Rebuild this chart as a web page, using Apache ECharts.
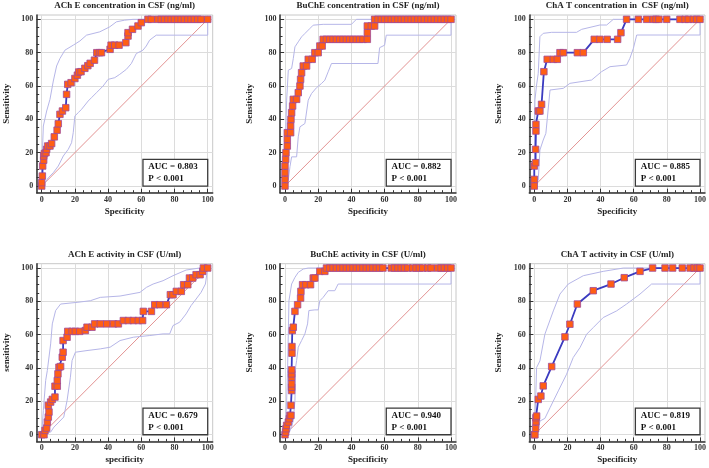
<!DOCTYPE html>
<html>
<head>
<meta charset="utf-8">
<script src="https://cdn.jsdelivr.net/npm/echarts@6/dist/echarts.min.js"></script>
<style>html,body{margin:0;padding:0;background:#fff;}#c{width:709px;height:468px;}</style>
</head>
<body>
<div id="c"></div>
<script>
// ---------- DATA ----------
const titles = [
  'ACh E concentration in CSF (ng/ml)',
  'BuChE concentration in CSF (ng/ml)',
  'ChA T concentration in  CSF (ng/ml)',
  'ACh E activity in CSF (U/ml)',
  'BuChE activity in CSF (U/ml)',
  'ChA T activity in CSF (U/ml)'
];
const xNames = ['Specificity','Specificity','Specificity','specificity','Specificity','Specificity'];
const yNames = ['Sensitivity','Sensitivity','Sensitivity','sensitivity','Sensitivity','Sensitivity'];
const aucValues = ['0.803','0.882','0.885','0.679','0.940','0.819'];
const pValues = ['P < 0.001','P < 0.001','P < 0.001','P < 0.001','P < 0.001','P < 0.001'];
const tickValues = [0,20,40,60,80,100];
const minorTickValues = [0,5,10,15,20,25,30,35,40,45,50,55,60,65,70,75,80,85,90,95,100];
const diagonal = [[0,0],[100,100]];

// Panel 1: AChE concentration
const achEConcRoc = [[0,0],[0,2],[0.4,6],[0.6,12],[1.2,15.5],[1.2,18],[1.6,19.5],[2.6,20],[3,22],[3.6,24],[5,24],[6,25.5],[7.6,29.5],[9.3,33.5],[10,37.4],[11,43],[12.5,45],[14.5,47],[15,55],[15.7,61],[17.7,62],[20,64.5],[21.5,66.5],[22.3,68.4],[23.7,68.6],[26,70.6],[27.8,72.2],[29.2,73.6],[31.8,75.5],[33.2,80],[34.8,80],[36,80],[41.2,82],[41.8,84.5],[44,84.5],[46.6,84.5],[50.7,86],[52,90],[52,92],[54.7,94],[58,96],[60,98],[64,100],[66,100],[70,100],[72,100],[74,100],[76,100],[78,100],[80,100],[82,100],[84,100],[86,100],[88,100],[90,100],[92,100],[94,100],[96,100],[100,100]];
const achEConcUpper = [[0,0],[0.4,20],[1,36],[3,45],[5,52],[7,63],[9,72],[11,76.5],[14,81.5],[19,84.5],[23,87],[27,90.5],[35,92.5],[41,95.5],[45,98.5],[50,99.5],[55,100],[100,100]];
const achEConcLower = [[0,0],[2,2],[4,5],[7,8],[10,12],[13,18],[16,22],[18,26],[19,32],[20,42],[22,44],[24,46],[28,51],[30,53],[33,56],[37,60],[40,64],[44,65],[47,67],[51,70],[54,73.5],[57,79.5],[61,81.5],[63,84],[65,87.5],[69,90.5],[100,90.5],[100,100]];

// Panel 2: BuChE concentration
const buChEConcRoc = [[0,0],[0,4],[0,8],[0,12],[0.4,16],[0.6,20],[1.4,24],[1.4,28],[1.4,32],[3.4,32],[3.4,36],[3.6,40],[4,44],[4.6,48],[5,52],[7,52],[8,56],[9,60],[9.4,64],[10,68],[11,72],[13,72],[14,76],[16.4,76],[18,80],[20,80],[21,84],[22.4,84],[23,88],[25,88],[27,88],[29,88],[31,88],[33,88],[35,88],[37,88],[39,88],[41,88],[43,88],[45,88],[47,88],[49.6,88],[49.6,92],[49.6,96],[52,96],[54,96],[54,100],[56,100],[58,100],[60,100],[62,100],[64,100],[66,100],[68,100],[70,100],[72,100],[74,100],[76,100],[78,100],[80,100],[82,100],[84,100],[86,100],[88,100],[90,100],[92,100],[94,100],[96,100],[98,100],[100,100]];
const buChEConcUpper = [[0,0],[0.4,30],[1,51.5],[2,69.5],[4,70.5],[5,76.5],[6,83.5],[8,86.5],[10,89.5],[12,91.5],[15,94.5],[17,96.5],[23,97],[40,97],[43,100],[100,100]];
const buChEConcLower = [[0,0],[2,3.6],[3,11.6],[4,17.5],[7,17.5],[8,29.5],[9,35.5],[12,37.5],[14,51.5],[16,55.5],[19,59],[22,61.5],[24,63.5],[26,68.5],[28,73.5],[56,73.5],[57,83],[60,84.5],[61,90.5],[100,90.5],[100,100]];

// Panel 3: ChAT concentration
const chATConcRoc = [[0,0],[0,4],[0,12],[0.8,14],[0.8,22],[1,33],[1,37],[2.4,45],[3.4,45],[4.4,49],[5.8,68.6],[7.8,76],[11.5,76],[13.9,76],[15.5,80],[17.5,80],[26,80],[29.6,80],[36.2,88],[39.6,88],[44,88],[50.3,88],[52.3,92],[55.7,100],[62.8,100],[67.8,100],[71.8,100],[73.5,100],[75.2,100],[79.9,100],[87.9,100],[91,100],[93,100],[96,100],[98,100],[100,100]];
const chATConcUpper = [[0,0],[0.4,51.6],[1.4,60.6],[2.4,67.6],[3.4,89.6],[4.4,89.6],[5.4,91.6],[10.5,92.2],[25.5,92.2],[28.6,94],[39.6,96.6],[43.7,96.6],[47.7,100],[100,100]];
const chATConcLower = [[0,0],[2.4,3.6],[3.4,21.6],[4.4,22.6],[5.4,27.6],[7,31.6],[9.5,57.6],[10.5,58.6],[17.5,58.6],[21.5,61.6],[34.6,63.6],[40.6,68.6],[45.7,71.6],[55.7,72.6],[57.7,76.6],[59.8,82.6],[61.8,90.6],[100,90.6],[100,100]];

// Panel 4: AChE activity
const achEActRoc = [[0,0],[1.4,0],[2,2.6],[3,4],[3.4,7.6],[4,10.6],[4.4,13.6],[4,17.6],[5.4,19.6],[6.4,21.2],[8,22.6],[8,29.1],[9.4,29.1],[9.4,32.5],[9.8,36.5],[10.4,40.5],[11.4,40.9],[12.4,46.5],[12.9,49.5],[12.9,56.5],[15.3,58.5],[15.7,62],[18.3,62],[20.3,62],[22.9,62],[26.3,62.5],[27.3,64.5],[30.3,64.5],[31.9,66.5],[35.3,66.5],[39.2,66.5],[43.2,66.5],[46.2,66.5],[49.2,68.5],[52.2,68.5],[55.2,68.5],[58.2,68.5],[60.8,68.5],[61.2,74],[66.1,74],[68.1,78],[71.1,78],[75.1,78],[77.5,84],[79.1,84],[81.1,86],[84.1,86],[85.5,90],[88,90],[89,94],[91,94],[93,96],[95.4,96],[97,98],[97.4,100],[100,100]];
const achEActUpper = [[0,0],[1,14.6],[2.4,32.5],[3.4,38.5],[5.4,54.5],[6.4,66.5],[8.4,74.5],[11.4,78.4],[21.3,79.4],[29.3,80.4],[35.3,82.4],[47.2,83.2],[59.2,85.4],[63.1,88.4],[67.1,90.4],[73.1,92.4],[79.1,95.4],[87,98.8],[95,100],[100,100]];
const achEActLower = [[0,0],[5.4,1.6],[7.4,4.6],[10.4,7.6],[13.3,10.6],[15.3,20.6],[17.3,34.5],[18.3,44.5],[20.3,49.5],[27.3,50.5],[35.3,51.5],[41.2,52.5],[47.2,56.5],[55.2,58.5],[65.1,59.5],[73.1,60.5],[77.1,60.5],[79.1,65.5],[83.1,67.5],[87,72.5],[90,77.5],[93,81.4],[96,85.4],[98.6,90.4],[100,100]];

// Panel 5: BuChE activity
const buChEActRoc = [[0,0],[0.4,1.6],[0.6,3.6],[1,5.6],[2,7.6],[2.6,9.6],[3,11.6],[3.6,11.6],[3.6,17.6],[4,26.5],[4,28.5],[4,30.5],[4,34.5],[4,36.5],[4,38.9],[4.2,48.9],[4.2,52.9],[4.4,62.5],[5,64.5],[6,74],[7.6,78],[9.4,82],[9.6,86],[10.6,90],[12.6,90],[15.4,90],[17,94],[18,94],[21,98],[24,98],[25,100],[27,100],[29,100],[31,100],[33,100],[35,100],[37,100],[39,100],[41,100],[43,100],[45,100],[47,100],[49,100],[51,100],[53,100],[55,100],[57,100],[59,100],[64,100],[66,100],[68,100],[70,100],[72,100],[74,100],[77,100],[79,100],[81,100],[83,100],[86,100],[88,100],[92,100],[94,100],[96,100],[98,100],[100,100]];
const buChEActUpper = [[0,0],[1,20.6],[1.6,40.5],[2,60.5],[2.4,80.4],[4,90.4],[6,94.4],[8,97.4],[11,99.4],[14,100],[100,100]];
const buChEActLower = [[0,0],[2.4,1],[4,4.6],[5,8.6],[6,20.6],[6.4,40.5],[7,44.5],[8,52.5],[10,56.5],[12,60.5],[13.6,66.5],[14.4,74.5],[18,74.9],[20,74.9],[21,80.4],[23,82.4],[26,86.4],[30,86.4],[32,90.4],[100,90.4],[100,100]];

// Panel 6: ChAT activity
const chATActRoc = [[0,0],[0.4,0],[0.8,3.8],[1,7.8],[1,10.2],[1.4,11.2],[2.4,21.2],[4,23.2],[5.4,29.3],[10.5,40.9],[18.5,58.7],[21.5,66.3],[26,78.4],[35.6,86.4],[46.3,90.4],[54.3,94.2],[63.8,98],[71.4,100],[78.9,100],[83.5,100],[89.3,100],[94,100],[96.4,100],[98.4,100],[100,100]];
const chATActUpper = [[0,0],[0.8,20.2],[1.4,40.3],[3.4,44.3],[6.4,60.3],[11.5,74.3],[15.5,84.4],[20.5,90.4],[29.6,95.4],[41.6,98],[53.7,100],[100,100]];
const chATActLower = [[0,0],[2,0.6],[3.4,8.2],[6.4,9.8],[9.5,16.2],[14.5,26.3],[19.5,36.3],[23.5,46.3],[27.6,52.3],[31.6,60.3],[35.6,64.3],[41.6,70.3],[49.7,74.3],[55.7,78.4],[63.8,84.4],[70.8,90.4],[100,90.4],[100,100]];

const rocCurves = [achEConcRoc, buChEConcRoc, chATConcRoc, achEActRoc, buChEActRoc, chATActRoc];
const upperCurves = [achEConcUpper, buChEConcUpper, chATConcUpper, achEActUpper, buChEActUpper, chATActUpper];
const lowerCurves = [achEConcLower, buChEConcLower, chATConcLower, achEActLower, buChEActLower, chATActLower];

// ---------- LAYOUT / STYLE ----------
const FONT = "'Liberation Serif', 'Times New Roman', serif";
const colLefts = [36.7, 280, 529.3];
const rowTops = [15, 263.7];
const GW = 176, GH = 177.7;
const XMIN = -3, XMAX = 103, YMIN = -4, YMAX = 102.6;

const grids = [], xAxes = [], yAxes = [], series = [], titleList = [];
for (let i = 0; i < 6; i++) {
  const col = i % 3, row = Math.floor(i / 3);
  const left = colLefts[col], top = rowTops[row];
  grids.push({left: left, top: top, width: GW, height: GH, show: true, borderColor: '#c8c8c8', borderWidth: 1, backgroundColor: '#fff'});
  const pxPerX = GW / (XMAX - XMIN);
  titleList.push({
    text: titles[i], left: left + (50 - XMIN) * pxPerX, top: top - 14, textAlign: 'center', padding: 0,
    textStyle: {fontFamily: FONT, fontSize: 9, fontWeight: 'bold', color: '#222'}
  });
  xAxes.push({
    type: 'value', gridIndex: i, min: XMIN, max: XMAX, position: 'bottom',
    name: xNames[i], nameLocation: 'middle', nameGap: 14,
    nameTextStyle: {fontFamily: FONT, fontSize: 9, fontWeight: 'bold', color: '#222'},
    axisLine: {show: true, onZero: false, lineStyle: {color: '#333', width: 1.5}},
    axisTick: {show: true, inside: true, length: 4, customValues: tickValues, lineStyle: {color: '#333'}},
    axisLabel: {show: true, customValues: tickValues, fontFamily: FONT, fontSize: 8, fontWeight: 'bold', color: '#333', margin: 3},
    splitLine: {show: true, lineStyle: {color: '#dcdcdc', width: 1}}
  });
  xAxes.push({
    type: 'value', gridIndex: i, min: XMIN, max: XMAX, position: 'bottom',
    axisLine: {show: false, onZero: false},
    axisTick: {show: true, inside: true, length: 2.5, customValues: minorTickValues, lineStyle: {color: '#333'}},
    axisLabel: {show: false}, splitLine: {show: false}
  });
  yAxes.push({
    type: 'value', gridIndex: i, min: YMIN, max: YMAX, position: 'left',
    name: yNames[i], nameLocation: 'middle', nameGap: 26,
    nameTextStyle: {fontFamily: FONT, fontSize: 9, fontWeight: 'bold', color: '#222'},
    axisLine: {show: true, onZero: false, lineStyle: {color: '#333', width: 1.5}},
    axisTick: {show: true, inside: true, length: 4, customValues: tickValues, lineStyle: {color: '#333'}},
    axisLabel: {show: true, customValues: tickValues, fontFamily: FONT, fontSize: 8, fontWeight: 'bold', color: '#333', margin: 3.5},
    splitLine: {show: true, lineStyle: {color: '#dcdcdc', width: 1}}
  });
  yAxes.push({
    type: 'value', gridIndex: i, min: YMIN, max: YMAX, position: 'left',
    axisLine: {show: false, onZero: false},
    axisTick: {show: true, inside: true, length: 2.5, customValues: minorTickValues, lineStyle: {color: '#333'}},
    axisLabel: {show: false}, splitLine: {show: false}
  });
  const xi = 2 * i, yi = 2 * i;
  series.push({
    type: 'line', xAxisIndex: xi, yAxisIndex: yi, data: diagonal, symbol: 'none', silent: true,
    lineStyle: {color: '#e39393', width: 1}, z: 2,
    markArea: {
      silent: true,
      itemStyle: {color: '#fff', borderColor: '#3a3a3a', borderWidth: 1.3},
      label: {show: true, position: 'insideLeft', distance: 6, formatter: 'AUC = ' + aucValues[i] + '\n' + pValues[i],
        fontFamily: FONT, fontSize: 9, fontWeight: 'bold', color: '#111', lineHeight: 12},
      data: [[{coord: [61, 0]}, {coord: [100, 16]}]]
    }
  });
  series.push({type: 'line', xAxisIndex: xi, yAxisIndex: yi, data: upperCurves[i], symbol: 'none', silent: true, lineStyle: {color: '#b6b6e8', width: 1}, z: 3});
  series.push({type: 'line', xAxisIndex: xi, yAxisIndex: yi, data: lowerCurves[i], symbol: 'none', silent: true, lineStyle: {color: '#b6b6e8', width: 1}, z: 3});
  series.push({
    type: 'line', xAxisIndex: xi, yAxisIndex: yi, data: rocCurves[i], silent: true,
    symbol: 'rect', symbolSize: 6.5, showAllSymbol: true, clip: false,
    lineStyle: {color: '#3b3bc0', width: 1.8},
    itemStyle: {color: '#ff5e14', borderColor: '#a04a9a', borderWidth: 0.8}, z: 4
  });
}

const chart = echarts.init(document.getElementById('c'), null, {renderer: 'canvas'});
chart.setOption({
  animation: false,
  backgroundColor: '#fff',
  title: titleList,
  grid: grids,
  xAxis: xAxes,
  yAxis: yAxes,
  series: series
});
</script>
</body>
</html>
